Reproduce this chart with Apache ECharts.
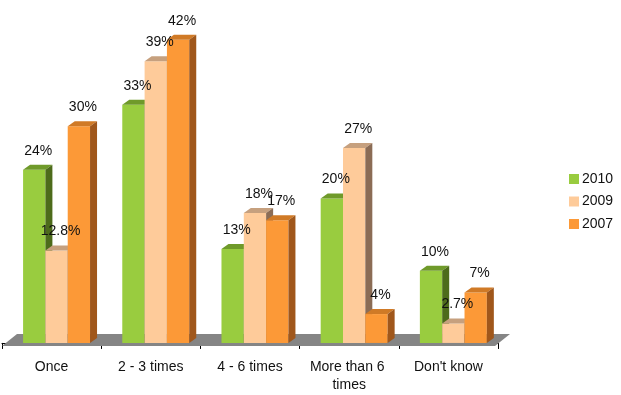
<!DOCTYPE html>
<html>
<head>
<meta charset="utf-8">
<script src="https://cdn.jsdelivr.net/npm/echarts@6/dist/echarts.min.js"></script>
<style>
html,body{margin:0;padding:0;background:#fff;}
#chart{width:621px;height:395px;}
</style>
</head>
<body>
<div id="chart"></div>
<script>
const categories = ['Once', '2 - 3 times', '4 - 6 times', 'More than 6 times', "Don't know"];
const seriesNames = ['2010', '2009', '2007'];
const values2010 = [24, 33, 13, 20, 10];
const values2009 = [12.8, 39, 18, 27, 2.7];
const values2007 = [30, 42, 17, 4, 7];

const seriesValues = [values2010, values2009, values2007];
const palette = [
  { front: '#99cc3f', top: '#6f9a2a', side: '#4d6b1b' },
  { front: '#fecb9a', top: '#c6a07e', side: '#8b6c55' },
  { front: '#fc9937', top: '#d07a26', side: '#a0571b' }
];
const DX = 7, DY = 5;
const FONT = '"Liberation Sans", Arial, sans-serif';

const chart = echarts.init(document.getElementById('chart'), null, { renderer: 'canvas' });

function barRenderer(s) {
  return function (params, api) {
    const cat = api.value(0), v = api.value(1);
    const top = api.coord([cat, v]);
    const base = api.coord([cat, 0]);
    const cw = api.size([1, 0])[0];
    const bw = cw * 0.225;
    const x0 = top[0] + cw * 0.05 - 1.5 * bw + s * bw;
    const x1 = x0 + bw;
    const yt = top[1], yb = base[1];
    const c = palette[s];
    return {
      type: 'group',
      children: [
        { type: 'polygon', shape: { points: [[x0, yt], [x1, yt], [x1, yb], [x0, yb]] }, style: { fill: c.front } },
        { type: 'polygon', shape: { points: [[x0, yt], [x1, yt], [x1 + DX, yt - DY], [x0 + DX, yt - DY]] }, style: { fill: c.top } },
        { type: 'polygon', shape: { points: [[x1, yt], [x1 + DX, yt - DY], [x1 + DX, yb - DY], [x1, yb]] }, style: { fill: c.side } },
        { type: 'text', z2: 100, style: {
            text: v + '%', x: x0 + bw / 2 + 4, y: yt - 19,
            align: 'center', verticalAlign: 'middle',
            fill: '#111', font: '14px ' + FONT
          } }
      ]
    };
  };
}

const series = [{
  type: 'custom',
  name: 'floor',
  z: 1,
  silent: true,
  data: [[0, 0]],
  encode: { x: 0, y: 1 },
  renderItem: function (params, api) {
    const cs = params.coordSys;
    const fy = cs.y + cs.height - 2;
    const by = fy - 12;
    const lx = cs.x, rx = cs.x + cs.width - 3;
    return { type: 'polygon', shape: { points: [[lx, fy], [rx, fy], [rx + 15, by], [lx + 15, by]] }, style: { fill: '#858585' } };
  }
}];

seriesNames.forEach(function (name, s) {
  series.push({
    type: 'custom',
    name: name,
    z: 2,
    itemStyle: { color: palette[s].front },
    data: seriesValues[s].map(function (v, i) { return [i, v]; }),
    encode: { x: 0, y: 1 },
    renderItem: barRenderer(s)
  });
});

chart.setOption({
  animation: false,
  backgroundColor: '#ffffff',
  grid: { left: 2, right: 123, top: 18, bottom: 47, containLabel: false },
  legend: {
    data: seriesNames,
    orient: 'vertical',
    left: 564, top: 167,
    itemWidth: 10, itemHeight: 10, itemGap: 8.5,
    icon: 'rect',
    textStyle: { fontSize: 14, color: '#111', fontFamily: FONT, padding: [0, 0, 0, -2] }
  },
  xAxis: {
    type: 'category',
    data: categories,
    boundaryGap: true,
    axisLine: { lineStyle: { color: '#000', width: 1 } },
    axisTick: { show: true, length: 6, lineStyle: { color: '#000' } },
    axisLabel: { fontSize: 14, color: '#111', fontFamily: FONT, margin: 10, width: 96, overflow: 'break', lineHeight: 18, interval: 0 }
  },
  yAxis: { type: 'value', min: -0.7, max: 45, show: false, splitLine: { show: false } },
  series: series
});
</script>
</body>
</html>
